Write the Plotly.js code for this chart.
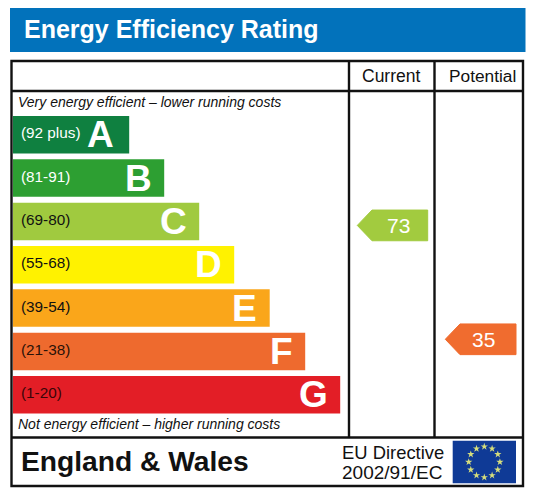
<!DOCTYPE html>
<html><head><meta charset="utf-8">
<script src="https://cdn.plot.ly/plotly-3.0.1.min.js"></script>
<style>html,body{margin:0;padding:0;background:#fff}#c{width:536px;height:502px}</style>
</head><body><div id="c"></div>
<script>
const bands = ['A','B','C','D','E','F','G'];
const ranges = ['(92 plus)','(81-91)','(69-80)','(55-68)','(39-54)','(21-38)','(1-20)'];
const bandLengths = [116.5,151.5,186.5,221.5,257,292.5,327.5];
const bandColors = ['#0f8040','#2d9f32','#a0ca3f','#fff200','#faa61a','#ee6a2e','#e31e26'];
const rangeColors = ['#ffffff','#ffffff','#111111','#111111','#111111','#2a1208','#3a0508'];
const letterInsets = [14,11.5,11.5,11.5,11.5,11.5,11];
const columns = ['Current','Potential'];
const ratings = [73,35];
const tagColors = ['#a2cb3f','#f06c2f'];
const font = 'Liberation Sans, Arial, sans-serif';
const W=536,H=502;
const xp=p=>p/W, yp=p=>1-p/H;

// score scale used by the rating tags: 2.997 px per point, 73 sits at y=225.4
const pxPerPoint=2.997, topScore=73+225.4/pxPerPoint;
const tagX=[[357.3,372,427.7],[445.3,460,516]];
const tagHalf=15.35/pxPerPoint;

const data=[];
data.push({type:'bar',orientation:'h',y:bands,x:bandLengths,base:0,width:0.865,
  marker:{color:bandColors,line:{width:0}},hoverinfo:'skip',xaxis:'x',yaxis:'y',showlegend:false});
ratings.forEach((v,i)=>{
  const [a,b,c]=tagX[i];
  data.push({type:'scatter',mode:'lines',fill:'toself',fillcolor:tagColors[i],
    line:{color:tagColors[i],width:1},
    x:[a,b,c,c,b,a],y:[v,v+tagHalf,v+tagHalf,v-tagHalf,v-tagHalf,v],
    hoverinfo:'skip',xaxis:'x2',yaxis:'y2',showlegend:false});
});
// EU flag stars
const starN=12, sx=[], sy=[];
for(let k=0;k<starN;k++){const t=2*Math.PI*k/starN; sx.push(484.3+15.6*Math.sin(t)); sy.push(topScore-(462-15.4*Math.cos(t))/pxPerPoint);}
data.push({type:'scatter',mode:'markers',x:sx,y:sy,marker:{symbol:'star',size:5.5,color:'#d6de7c',line:{width:0}},
  hoverinfo:'skip',xaxis:'x2',yaxis:'y2',showlegend:false});

const rect=(x0,y0,x1,y1,fill,layer)=>({type:'rect',xref:'paper',yref:'paper',x0:xp(x0),x1:xp(x1),y0:yp(y0),y1:yp(y1),
  fillcolor:fill,line:{width:0},layer:layer||'below'});
const line=(x0,y0,x1,y1)=>({type:'line',xref:'paper',yref:'paper',x0:xp(x0),x1:xp(x1),y0:yp(y0),y1:yp(y1),
  line:{color:'#111111',width:2.4},layer:'above'});
const shapes=[
  rect(10,8,525.5,52,'#0272bb'),
  {type:'rect',xref:'paper',yref:'paper',x0:xp(11.5),x1:xp(523),y0:yp(61),y1:yp(486),line:{color:'#111111',width:2.4},fillcolor:'rgba(0,0,0,0)',layer:'above'},
  line(11.5,91,523,91),
  line(11.5,437.5,523,437.5),
  line(349,61,349,437.5),
  line(434.5,61,434.5,437.5),
  rect(452.7,440.7,516,483.3,'#0f3a96','below')
];
const note=(t,x,y,size,opts)=>Object.assign({text:t,xref:'paper',yref:'paper',x:xp(x),y:yp(y),showarrow:false,
  xanchor:'left',yanchor:'middle',font:{family:font,size:size,color:'#111111'}},opts||{});
const annotations=[
  note('<b>Energy Efficiency Rating</b>',22,29.5,25,{font:{family:font,size:25,color:'#ffffff'}}),
  note('Current',390.5,76,17.5,{xanchor:'center'}),
  note('Potential',482,76,17.3,{xanchor:'center'}),
  note('<i>Very energy efficient – lower running costs</i>',16,102,14),
  note('<i>Not energy efficient – higher running costs</i>',16,424,14),
  note('<b>England &amp; Wales</b>',19,461,28.2),
  note('EU Directive',339.5,452,18.4),
  note('2002/91/EC',339.5,472,19)
];
bands.forEach((b,i)=>{
  annotations.push({text:ranges[i],xref:'x',yref:'y',x:6,y:b,showarrow:false,xanchor:'left',yanchor:'middle',yshift:2,
    font:{family:font,size:15.3,color:rangeColors[i]}});
  annotations.push({text:'<b>'+b+'</b>',xref:'x',yref:'y',x:bandLengths[i]-letterInsets[i]+1,y:b,showarrow:false,xanchor:'right',yanchor:'middle',yshift:0,
    font:{family:font,size:37,color:'#ffffff'}});
});
ratings.forEach((v,i)=>{
  const [a,b,c]=tagX[i];
  annotations.push({text:String(v),xref:'x2',yref:'y2',x:(b+c)/2-(i?5:1.5),y:v,showarrow:false,xanchor:'center',yanchor:'middle',yshift:0,
    font:{family:font,size:21,color:'#ffffff'}});
});
const hidden={visible:false,fixedrange:true};
const layout={width:W,height:H,margin:{l:0,r:0,t:0,b:0},paper_bgcolor:'#ffffff',plot_bgcolor:'rgba(0,0,0,0)',showlegend:false,
  xaxis:Object.assign({},hidden,{domain:[xp(12.7),1],range:[0,W-12.7]}),
  yaxis:Object.assign({},hidden,{type:'category',categoryorder:'array',categoryarray:bands,domain:[yp(416.4),yp(113.1)],range:[6.5,-0.5]}),
  xaxis2:Object.assign({},hidden,{domain:[0,1],range:[0,W],anchor:'y2'}),
  yaxis2:Object.assign({},hidden,{domain:[0,1],range:[topScore-H/pxPerPoint,topScore],anchor:'x2'}),
  shapes,annotations};
Plotly.newPlot('c',data,layout,{displayModeBar:false,staticPlot:true});
</script></body></html>
